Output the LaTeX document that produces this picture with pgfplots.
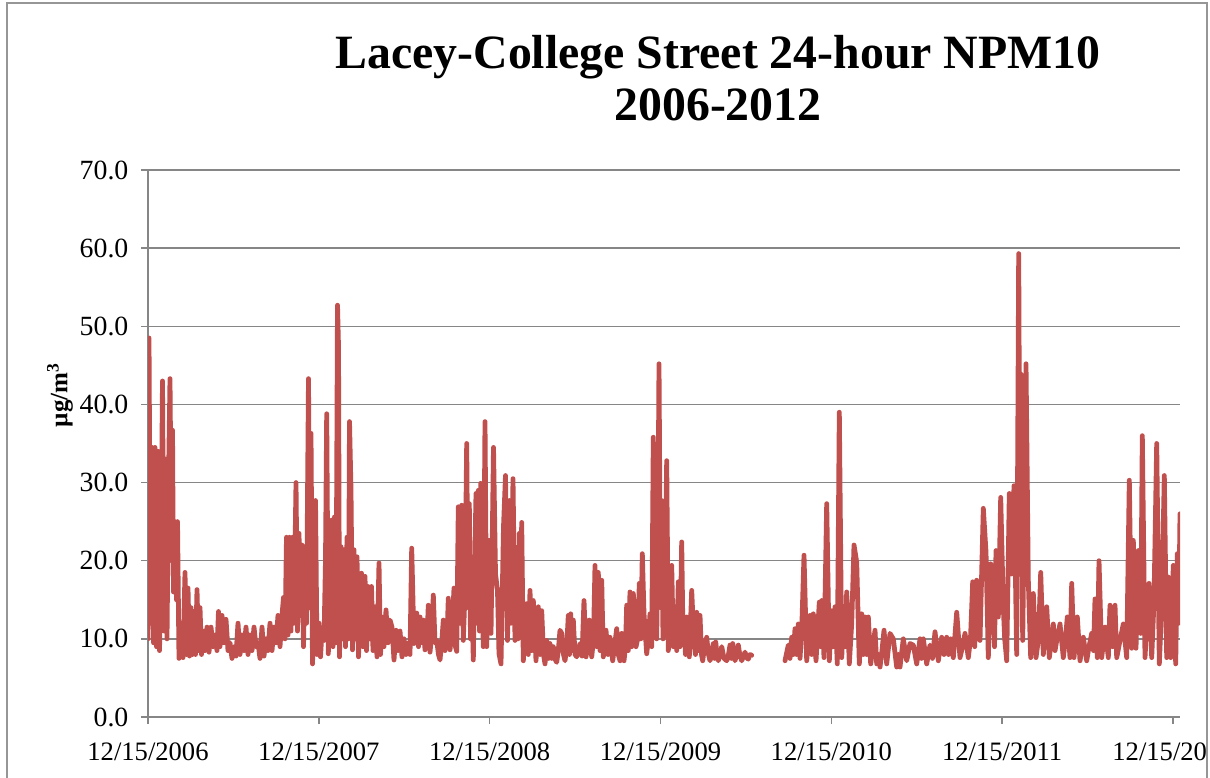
\documentclass[border=0pt]{standalone}
\usepackage{fontspec}
\setmainfont{Liberation Serif}
\usepackage{pgfplots}
\usepackage{pgfplotstable}
\pgfplotsset{compat=1.18}
\definecolor{series}{RGB}{192,80,77}
\definecolor{gridc}{RGB}{134,134,134}
\definecolor{framec}{RGB}{150,150,150}

\pgfplotstableread{
d v
0 10
1 48.5
2.5 12
4 34.5
5.5 9.5
7 34.5
8.5 9
10 34
11.5 8.5
13 20
14.5 43
16 11
17.5 33
19 10
20.5 30
22 43.3
23.5 20
24.5 36.7
25.5 16
27 25
28.5 15
29.5 25
31 7.5
33 12
35 7.6
37 18.5
38.5 8
40 16.5
41.5 7.8
43 14
44.5 8
46 13.5
47.5 8
49 16.3
50.5 8.5
52 14
53.5 8
55 11
57 8.5
59 11.5
61 8.3
63 11.5
65 9
67 10.5
69 8.5
70.5 13.5
72 9
74 13
76 9.5
78 12.5
80 8.5
82 9.5
84 7.5
86 9
88 7.8
90 12
92 8
94 10.5
96 8.5
98 11.5
100 8
102 10.5
104 8.5
106 11.5
108 9
110 9.5
112 7.5
114 11.5
116 7.8
118 10
120 8.5
122 12
124 8.5
126 11.5
128 9.5
130 13
132 9
134 13
135.5 15.3
137 10
138.5 23
140 10.5
141.5 23
143 11
144.5 23
146 12
148 30
149.5 11
151 23.5
152.5 13
154 22
155.5 9
157 20
158.5 12
160.5 43.3
161.7 14
163 36.3
164.5 6.8
166 15
167.5 27.7
169 8
171 12
172.5 7.7
174 11
176 9.8
177.5 20
178.7 38.8
180.3 8.1
182 17
183.7 25.2
185 9
186.5 25.6
188 9.5
189.5 52.7
190.5 47.4
191.5 7.7
193 21.8
194.5 10
196 21.4
197.5 9
199 23
200.5 10
201.5 37.8
203 29
204.5 8.6
206 21.4
207.5 10
209 20.5
210.5 7.7
212 15
213.5 18.4
215 9
217 18
218.5 8.5
220 16.7
222 10
223.5 16.7
225 8.5
227 14.1
229 7.7
231 19.7
232.5 8
234 12.8
236 9
238 13.7
240 9.5
242 12.4
244 11.5
246 7.3
248 11.1
250 8.5
252 11
254 7.7
256 10
258 8
260 9.5
262 8
263.7 21.6
266 9.4
268.7 13.3
270.5 9
272 12.8
274 9.5
275.3 12.4
277 8.6
279 10
280.3 14.3
282 8.3
284 11
285.3 15.6
287 9.5
288.7 9.8
290.5 8
292 7.3
294 10
295.3 12.4
297 8.5
299 10
300.3 15.2
302 8.6
304 11
306 16.5
307.5 9
308.7 8.4
310.3 26.9
312 12
313.7 27.1
315.3 9.8
317 16
318.7 35
320 14
321.3 27.3
322.5 10
323.7 16.2
325.3 7.3
326.5 18
328 28.6
329 12
330.3 29
331.5 11
332.7 29.9
334 18
335.3 9
337 37.8
338.7 9
341 22.6
343 10.7
345.5 34.5
347.5 18.3
349.5 16.2
351 8.1
353 6.8
355.5 24.3
357.5 30.9
359.5 9.8
361.5 27.7
363 12
365 30.5
367 9.8
368.7 21.7
370 10
371.3 23.5
372.5 11
373.7 24.9
375.3 7.2
377 11
378.7 14.5
380.3 8
382 16.2
383.7 8.5
385.3 14.9
388 7.2
390.3 14.1
392 8
393.7 13.6
395.5 8
397 6.8
398.7 9.8
400.5 7.5
402 9.4
403.7 7.5
405.3 9
407 7.4
408.7 7
410.3 8.5
412 11.1
413.7 10.7
415.5 8
417 7.2
418.7 9
420.3 13
421.5 8
422.7 13.2
424 8.5
425.3 12.4
427 8
428.7 7.7
430.3 8.5
432 9.4
434 7.8
436 14.9
438 7.7
439.7 9
441.3 12.4
443.7 7.7
445.5 10
447 19.4
448.7 9
450.3 18.5
452 8.5
453.7 17.5
455.3 7.7
456.7 9
458 11.1
460 8
462 10.2
464.7 7.2
466.5 9
468.7 11.3
470.3 8
472 7.2
473.7 10.7
475 8
476 7.2
477.5 9
478.7 14.3
480.3 8.5
482 16
483.7 9
485.3 15.8
488 9
489.7 10
491.3 17.1
492.8 10
494.3 20.9
496 13.2
498.7 8.1
500.3 10
502 13.2
503.7 9
505.3 35.8
507 12
508.7 10
510 25
511 45.2
512.5 14
513.7 27.7
515 10
516.5 12
518.7 32.8
520.3 8.5
522 12
523.7 19.4
525.3 9
527 14.1
528.7 8.5
530.3 17.3
532 9
533.7 22.4
535 10
536 11.9
537.5 8
538.7 12.8
540 9
541.3 7.7
543.7 16.2
546 9.4
547.5 8
548.7 13.4
550.3 8.5
552 13
553.5 8
554.7 7.2
556.5 9
558.7 10.2
560.5 8
562 7.2
564 8.5
565.3 9.4
566.5 7.5
567.7 9.6
569 8
570.3 7.2
572 8
573.7 9
576 7.5
578.7 7.2
580.5 8
582 9.2
583.3 7.5
584.7 9.4
587 7.2
588.7 8
590.3 9.2
592 7.8
593.7 7.2
595.5 7.8
597 8.3
598.7 7.6
600.3 7.4
602 8
603.7 7.9
620 nan
637 7.2
640.3 9.2
642 7.5
643.7 10.2
645.3 8
647 11.3
648.7 8
650.3 11.9
652 7.5
653.7 11
656 20.7
658.7 7.2
662 13
663.7 8
665.3 13.2
668 7.2
671.3 14.7
672.7 9
673.7 14.9
676 7.6
678.7 27.3
681.3 7.2
683.7 13.6
685.3 9
687 14.1
689.3 6.8
691.3 39
693.7 7.6
696 14.1
697.3 9
698.7 16
701.3 6.8
703.7 12
706 22
708.7 19.8
711.3 6.8
713.7 13.2
715.3 8
717 12.8
718.7 8
720.3 12.8
722.7 6.8
725 9
727 11.1
728.7 6.8
730.5 8
732 6.4
734 8.5
736 11.1
738.7 6.8
742 10.7
745.3 10
748.7 6.4
750.5 8
752 6.4
755.3 10
758.7 7.2
762 9.4
765.3 9.2
768.7 6.8
772 10
773.5 7.5
775.3 10
778.7 6.8
782 9.2
784.5 7.5
787 10.9
790.3 7.2
793.7 10.2
796 8
798.7 10.2
800.5 8
802.7 10
805.3 7.6
808.7 13.4
812 7.6
814.5 9
817 10.7
820.3 7.6
822.5 10
824.7 17.3
826.7 9
828.7 17.5
832 9.8
835.3 26.7
838 21.1
840.3 7.6
842.7 19.6
845.3 14.1
846.5 9
848 21.3
850.3 12.8
852.7 28.1
855.3 14.1
856.7 10
858.7 7.2
861.3 28.6
863.7 18.3
866 29.6
868.7 8
870.7 59.3
872 20
872.7 43.9
874.7 9.8
878 45.2
880.3 17.5
882.7 7.6
885.3 15.8
888 7.6
890.5 10
892.7 18.5
895.3 8
898.7 14.1
901.3 7.6
903.5 10
905.3 11.9
907 8.5
908.7 9.8
912 11.9
915.3 7.6
917.5 10
919.3 12.8
922 7.6
923.7 17.1
926 7.6
929.3 12.8
932 7.2
935.3 10.2
938.7 7.2
941 9
943.7 10.7
945.5 8.5
947 15.1
949.3 7.6
951 20
953.7 7.6
957 11.5
960.3 7.6
962 14.3
964.7 9
967 14.3
968.7 7.6
972 9.8
975.3 11.9
978.7 7.6
981.3 30.3
983.7 8.8
985.3 22.6
988 8.8
990.3 21.3
992.7 10.7
994.3 36
997 7.6
998.7 11.9
1001 17.1
1003.7 7.6
1006 14.9
1008.7 35
1011.3 6.8
1013.7 14.1
1016.3 30.9
1018.7 7.6
1020.3 17.9
1022.7 7.6
1025.3 19.4
1027.7 6.8
1029.3 20.9
1030.7 12
1032 26
}\pmdata

\begin{document}
\begin{tikzpicture}
\useasboundingbox (0,0) rectangle (605bp,389bp);
\fill[white] (0,0) rectangle (605bp,389bp);
\draw[framec, line width=0.75bp] (3.4bp,-5bp) -- (3.4bp,387.6bp) -- (603.5bp,387.6bp) -- (603.5bp,-5bp);
\node[font=\fontsize{23.9bp}{28bp}\selectfont\bfseries, anchor=base, inner sep=0pt] at (359bp,354.5bp) {Lacey-College Street 24-hour NPM10};
\node[font=\fontsize{23.9bp}{28bp}\selectfont\bfseries, anchor=base, inner sep=0pt] at (359bp,328.5bp) {2006-2012};
\node[font=\fontsize{12.5bp}{14bp}\selectfont\bfseries, rotate=90, inner sep=0pt] at (30bp,191.5bp) {µg/m\textsuperscript{3}};
\begin{scope}
\clip (3.4bp,-5bp) rectangle (603.5bp,390bp);
\begin{axis}[
  at={(74bp,30.5bp)}, anchor=south west,
  scale only axis, width=516bp, height=273.5bp,
  xmin=0, xmax=1032, ymin=0, ymax=70,
  axis x line*=bottom, axis y line*=left,
  axis line style={gridc, line width=0.75bp},
  ymajorgrids, major grid style={gridc, line width=0.75bp},
  xtick={0,170.83,341.67,512.5,683.33,854.17,1025},
  xticklabels={12/15/2006,12/15/2007,12/15/2008,12/15/2009,12/15/2010,12/15/2011,12/15/2012},
  ytick={0,10,20,30,40,50,60,70},
  tick align=outside, major tick length=3.5bp,
  tick style={gridc, line width=0.75bp},
  xticklabel style={font=\fontsize{13.3bp}{15bp}\selectfont, yshift=-6bp},
  yticklabel style={font=\fontsize{13.9bp}{15bp}\selectfont, xshift=-2.8bp, /pgf/number format/fixed, /pgf/number format/fixed zerofill, /pgf/number format/precision=1, /pgf/number format/assume math mode=true},
  unbounded coords=jump,
]
\addplot[series, line width=2.4bp, line join=round, line cap=round] table[x=d, y=v] {\pmdata};
\end{axis}
\end{scope}
\end{tikzpicture}
\end{document}
